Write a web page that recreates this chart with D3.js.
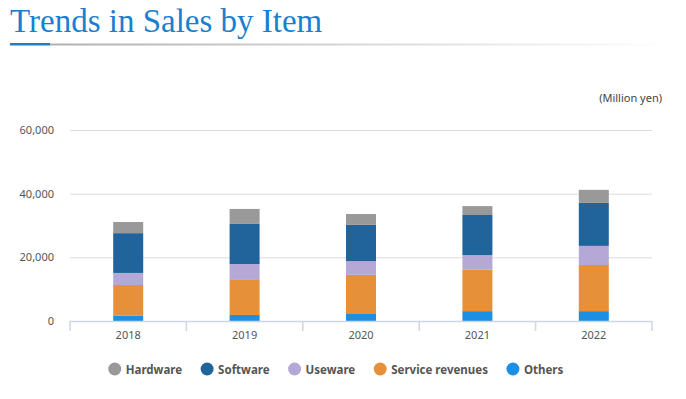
<!DOCTYPE html>
<html>
<head>
<meta charset="utf-8">
<script src="https://cdn.jsdelivr.net/npm/d3@7"></script>
<style>
  body { margin: 0; background: #fff; }
  svg { display: block; }
</style>
</head>
<body>
<div id="chart"></div>
<script>
var years = ['2018', '2019', '2020', '2021', '2022'];
var items = ['Others', 'Service revenues', 'Useware', 'Software', 'Hardware'];
var legendOrder = ['Hardware', 'Software', 'Useware', 'Service revenues', 'Others'];
var others = [1700, 1900, 2200, 3100, 3100];
var service = [9600, 11000, 12300, 13000, 14500];
var useware = [3800, 5000, 4300, 4600, 6000];
var software = [12500, 12600, 11400, 12600, 13500];
var hardware = [3500, 4700, 3400, 2800, 4100];
var yTicks = [0, 20000, 40000, 60000];
var colors = {
  'Hardware': '#999999',
  'Software': '#20649b',
  'Useware': '#b5a7d6',
  'Service revenues': '#e6903a',
  'Others': '#1a8fe3'
};

var width = 686, height = 399;
var plotLeft = 70, plotRight = 652, plotTop = 130, plotBottom = 321;

var rows = years.map(function(y, i){
  return {
    year: y,
    'Others': others[i],
    'Service revenues': service[i],
    'Useware': useware[i],
    'Software': software[i],
    'Hardware': hardware[i]
  };
});

var svg = d3.select('#chart').append('svg')
  .attr('width', width)
  .attr('height', height);

// title + underline
var grad = svg.append('defs').append('linearGradient')
  .attr('id', 'rule').attr('x1', '0%').attr('x2', '100%');
grad.append('stop').attr('offset', '0%').attr('stop-color', '#b0b0b0');
grad.append('stop').attr('offset', '100%').attr('stop-color', '#ffffff');

svg.append('text')
  .attr('x', 10).attr('y', 32)
  .attr('font-family', '"Liberation Serif", serif')
  .attr('font-size', 33)
  .attr('fill', '#1a7fd0')
  .text('Trends in Sales by Item');

svg.append('rect').attr('x', 50).attr('y', 43.5).attr('width', 620).attr('height', 2)
  .attr('fill', 'url(#rule)');
svg.append('rect').attr('x', 10).attr('y', 43).attr('width', 40).attr('height', 2.5)
  .attr('fill', '#1a7fd0');

svg.append('text')
  .attr('x', 662).attr('y', 102)
  .attr('text-anchor', 'end')
  .attr('font-family', '"Noto Sans", sans-serif')
  .attr('font-size', 11)
  .attr('fill', '#444')
  .text('(Million yen)');

var x = d3.scaleBand().domain(years).range([plotLeft, plotRight]);
var y = d3.scaleLinear().domain([0, 60000]).range([plotBottom, plotTop]);

// grid
svg.append('g').selectAll('line')
  .data(yTicks.filter(function(d){ return d > 0; }))
  .enter().append('line')
  .attr('x1', plotLeft).attr('x2', plotRight)
  .attr('y1', function(d){ return y(d) + 0.5; })
  .attr('y2', function(d){ return y(d) + 0.5; })
  .attr('stroke', '#dcdcdc');

var yAxis = svg.append('g')
  .attr('transform', 'translate(' + (plotLeft - 16) + ',0)')
  .call(d3.axisLeft(y).tickValues(yTicks).tickSize(0).tickPadding(0)
    .tickFormat(d3.format(',')));
yAxis.select('.domain').remove();
yAxis.selectAll('text')
  .attr('font-family', '"Noto Sans", sans-serif')
  .attr('font-size', 11)
  .attr('fill', '#555');

// stacked bars
var stack = d3.stack().keys(items)(rows);
var barW = 30;
svg.append('g').selectAll('g')
  .data(stack)
  .enter().append('g')
  .attr('fill', function(d){ return colors[d.key]; })
  .selectAll('rect')
  .data(function(d){ return d; })
  .enter().append('rect')
  .attr('x', function(d){ return x(d.data.year) + x.bandwidth() / 2 - barW / 2; })
  .attr('y', function(d){ return y(d[1]); })
  .attr('width', barW)
  .attr('height', function(d){ return y(d[0]) - y(d[1]); });

// x axis
var xAxis = svg.append('g')
  .attr('transform', 'translate(0,' + plotBottom + ')')
  .call(d3.axisBottom(x).tickSize(0).tickPadding(10));
xAxis.select('.domain').attr('stroke', '#cdd6e2').attr('stroke-width', 1.5)
  .attr('d', 'M' + plotLeft + ',0.5H' + plotRight);
xAxis.selectAll('text')
  .attr('font-family', '"Noto Sans", sans-serif')
  .attr('font-size', 11)
  .attr('fill', '#555');
var bounds = years.map(function(d){ return x(d); }).concat([plotRight]);
xAxis.selectAll('line.sep')
  .data(bounds)
  .enter().append('line')
  .attr('class', 'sep')
  .attr('x1', function(d){ return d; }).attr('x2', function(d){ return d; })
  .attr('y1', 0).attr('y2', 10)
  .attr('stroke', '#cdd6e2').attr('stroke-width', 1.5);

// legend
var legend = svg.append('g');
var cx = 0;
legendOrder.forEach(function(k){
  var g = legend.append('g').attr('transform', 'translate(' + cx + ',0)');
  g.append('circle').attr('cx', 6).attr('cy', 0).attr('r', 6.5).attr('fill', colors[k]);
  var t = g.append('text')
    .attr('x', 17).attr('y', 4.5)
    .attr('font-family', '"Noto Sans", sans-serif')
    .attr('font-size', 11.5)
    .attr('font-weight', 'bold')
    .attr('fill', '#555')
    .text(k);
  cx += 17 + t.node().getComputedTextLength() + 19;
});
var legW = cx - 19;
legend.attr('transform', 'translate(' + (336 - legW / 2) + ',369)');
</script>
</body>
</html>
